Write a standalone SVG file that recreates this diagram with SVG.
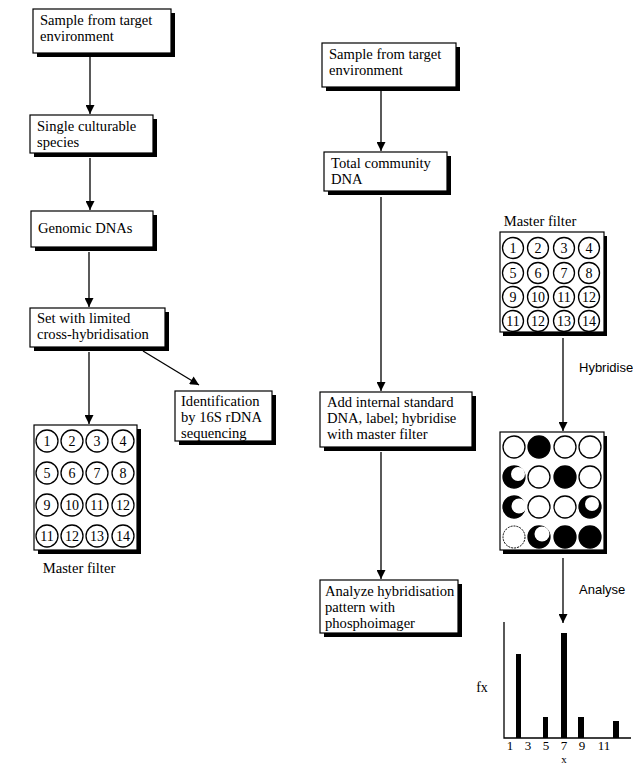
<svg xmlns="http://www.w3.org/2000/svg" width="633" height="765" viewBox="0 0 633 765">
<defs>
<style>
.box{fill:#fff;stroke:#000;stroke-width:1.2}
.sh{fill:#000}
.t{font-family:"Liberation Serif","Times New Roman",serif;font-size:14.6px;fill:#000}
.s{font-family:"Liberation Sans",Arial,sans-serif;font-size:13px;fill:#000}
.n{font-family:"Liberation Serif","Times New Roman",serif;font-size:14px;fill:#000;text-anchor:middle}
.c{fill:#fff;stroke:#000;stroke-width:1.3}
.k{fill:#000;stroke:#000;stroke-width:1.3}
.ln{stroke:#000;stroke-width:1.3;fill:none}
</style>
<marker id="ah" viewBox="0 0 10 10" refX="10" refY="5" markerWidth="13" markerHeight="9" markerUnits="userSpaceOnUse" orient="auto">
<path d="M0,0 L10,5 L0,10 z" fill="#000"/>
</marker>
</defs>
<rect width="633" height="765" fill="#fff"/>

<g id="connectors">
<line class="ln" x1="90" y1="56" x2="90" y2="114" marker-end="url(#ah)"/>
<line class="ln" x1="90" y1="158" x2="90" y2="210" marker-end="url(#ah)"/>
<line class="ln" x1="89" y1="252" x2="89" y2="307" marker-end="url(#ah)"/>
<line class="ln" x1="89" y1="352" x2="89" y2="424" marker-end="url(#ah)"/>
<line class="ln" x1="143" y1="351" x2="199" y2="385" marker-end="url(#ah)"/>
<line class="ln" x1="381" y1="91" x2="381" y2="151" marker-end="url(#ah)"/>
<line class="ln" x1="381" y1="197" x2="381" y2="391" marker-end="url(#ah)"/>
<line class="ln" x1="381" y1="452" x2="381" y2="579" marker-end="url(#ah)"/>
<line class="ln" x1="563" y1="338" x2="563" y2="431" marker-end="url(#ah)"/>
<line class="ln" x1="563" y1="558" x2="563" y2="623" marker-end="url(#ah)"/>
</g>

<g id="n-sample-left">
<rect class="sh" x="37" y="13" width="138" height="44"/>
<rect class="box" x="33" y="9" width="138" height="44"/>
<text class="t" x="40" y="25">Sample from target</text>
<text class="t" x="40" y="41">environment</text>
</g>
<g id="n-single">
<rect class="sh" x="34" y="119" width="123" height="38"/>
<rect class="box" x="30" y="115" width="123" height="38"/>
<text class="t" x="37" y="131">Single culturable</text>
<text class="t" x="37" y="147">species</text>
</g>
<g id="n-genomic">
<rect class="sh" x="35" y="215" width="122" height="36"/>
<rect class="box" x="31" y="211" width="122" height="36"/>
<text class="t" x="38" y="233">Genomic DNAs</text>
</g>
<g id="n-set">
<rect class="sh" x="34" y="312" width="135" height="39"/>
<rect class="box" x="30" y="308" width="135" height="39"/>
<text class="t" x="37" y="323">Set with limited</text>
<text class="t" x="37" y="339">cross-hybridisation</text>
</g>
<g id="n-ident">
<rect class="sh" x="179" y="395" width="97" height="50"/>
<rect class="box" x="175" y="391" width="97" height="50"/>
<text class="t" x="181" y="406">Identification</text>
<text class="t" x="181" y="422">by 16S rDNA</text>
<text class="t" x="181" y="438">sequencing</text>
</g>
<g id="n-master-left">
<rect class="sh" x="38" y="429" width="103" height="125"/>
<rect class="box" x="34" y="425" width="103" height="125"/>
<g>
<circle class="c" cx="47" cy="441" r="11"/><circle class="c" cx="72" cy="441" r="11"/><circle class="c" cx="97" cy="441" r="11"/><circle class="c" cx="123" cy="441" r="11"/>
<circle class="c" cx="47" cy="473" r="11"/><circle class="c" cx="72" cy="473" r="11"/><circle class="c" cx="97" cy="473" r="11"/><circle class="c" cx="123" cy="473" r="11"/>
<circle class="c" cx="47" cy="505" r="11"/><circle class="c" cx="72" cy="505" r="11"/><circle class="c" cx="97" cy="505" r="11"/><circle class="c" cx="123" cy="505" r="11"/>
<circle class="c" cx="47" cy="536" r="11"/><circle class="c" cx="72" cy="536" r="11"/><circle class="c" cx="97" cy="536" r="11"/><circle class="c" cx="123" cy="536" r="11"/>
</g>
<text class="n" x="47" y="446">1</text><text class="n" x="72" y="446">2</text><text class="n" x="97" y="446">3</text><text class="n" x="123" y="446">4</text>
<text class="n" x="47" y="478">5</text><text class="n" x="72" y="478">6</text><text class="n" x="97" y="478">7</text><text class="n" x="123" y="478">8</text>
<text class="n" x="47" y="510">9</text><text class="n" x="72" y="510">10</text><text class="n" x="97" y="510">11</text><text class="n" x="123" y="510">12</text>
<text class="n" x="47" y="541">11</text><text class="n" x="72" y="541">12</text><text class="n" x="97" y="541">13</text><text class="n" x="123" y="541">14</text>
<text class="t" x="79" y="573" text-anchor="middle">Master filter</text>
</g>

<g id="n-sample-mid">
<rect class="sh" x="326" y="47" width="134" height="44"/>
<rect class="box" x="322" y="43" width="134" height="44"/>
<text class="t" x="329" y="59">Sample from target</text>
<text class="t" x="329" y="75">environment</text>
</g>
<g id="n-total">
<rect class="sh" x="328" y="156" width="123" height="39"/>
<rect class="box" x="324" y="152" width="123" height="39"/>
<text class="t" x="331" y="168">Total community</text>
<text class="t" x="331" y="184">DNA</text>
</g>
<g id="n-add">
<rect class="sh" x="324" y="396" width="152" height="55"/>
<rect class="box" x="320" y="392" width="152" height="55"/>
<text class="t" x="327" y="407">Add internal standard</text>
<text class="t" x="327" y="423">DNA, label; hybridise</text>
<text class="t" x="327" y="439">with master filter</text>
</g>
<g id="n-analyze">
<rect class="sh" x="324" y="584" width="138" height="53"/>
<rect class="box" x="320" y="580" width="138" height="53"/>
<text class="t" x="325" y="596">Analyze hybridisation</text>
<text class="t" x="325" y="612">pattern with</text>
<text class="t" x="325" y="628">phosphoimager</text>
</g>

<g id="n-master-right">
<text class="t" x="540" y="226" text-anchor="middle">Master filter</text>
<rect class="sh" x="503" y="236" width="104" height="100"/>
<rect class="box" x="500" y="232" width="104" height="100"/>
<circle class="c" cx="513" cy="248" r="10.5"/><circle class="c" cx="538" cy="248" r="10.5"/><circle class="c" cx="564" cy="248" r="10.5"/><circle class="c" cx="589" cy="248" r="10.5"/>
<circle class="c" cx="513" cy="273" r="10.5"/><circle class="c" cx="538" cy="273" r="10.5"/><circle class="c" cx="564" cy="273" r="10.5"/><circle class="c" cx="589" cy="273" r="10.5"/>
<circle class="c" cx="513" cy="297" r="10.5"/><circle class="c" cx="538" cy="297" r="10.5"/><circle class="c" cx="564" cy="297" r="10.5"/><circle class="c" cx="589" cy="297" r="10.5"/>
<circle class="c" cx="513" cy="321" r="10.5"/><circle class="c" cx="538" cy="321" r="10.5"/><circle class="c" cx="564" cy="321" r="10.5"/><circle class="c" cx="589" cy="321" r="10.5"/>
<text class="n" x="513" y="253">1</text><text class="n" x="538" y="253">2</text><text class="n" x="564" y="253">3</text><text class="n" x="589" y="253">4</text>
<text class="n" x="513" y="278">5</text><text class="n" x="538" y="278">6</text><text class="n" x="564" y="278">7</text><text class="n" x="589" y="278">8</text>
<text class="n" x="513" y="302">9</text><text class="n" x="538" y="302">10</text><text class="n" x="564" y="302">11</text><text class="n" x="589" y="302">12</text>
<text class="n" x="513" y="326">11</text><text class="n" x="538" y="326">12</text><text class="n" x="564" y="326">13</text><text class="n" x="589" y="326">14</text>
</g>
<text class="s" x="579" y="372">Hybridise</text>

<g id="n-result">
<rect class="sh" x="503" y="436" width="104" height="118"/>
<rect class="box" x="500" y="432" width="104" height="118"/>
<circle class="c" cx="514" cy="447" r="11"/><circle class="k" cx="539" cy="447" r="11"/><circle class="c" cx="565" cy="447" r="11"/><circle class="c" cx="590" cy="447" r="11"/>
<circle class="k" cx="514" cy="477" r="11"/><circle cx="518" cy="474" r="7" fill="#fff"/><circle class="c" cx="539" cy="477" r="11"/><circle class="k" cx="565" cy="477" r="11"/><circle class="c" cx="590" cy="477" r="11"/>
<circle class="k" cx="514" cy="507" r="11"/><circle cx="519" cy="506" r="7.5" fill="#fff"/><circle class="c" cx="539" cy="507" r="11"/><circle class="c" cx="565" cy="507" r="11"/><circle class="k" cx="590" cy="507" r="11"/><circle cx="592" cy="504" r="7" fill="#fff"/>
<circle cx="514" cy="537" r="11" fill="#fff" stroke="#000" stroke-width="1" stroke-dasharray="2 1"/><circle class="k" cx="539" cy="537" r="11"/><circle cx="542" cy="534" r="7.5" fill="#fff"/><circle class="k" cx="565" cy="537" r="11"/><circle class="k" cx="590" cy="537" r="11"/>
</g>
<text class="s" x="579" y="594">Analyse</text>

<g id="n-chart">
<path class="ln" d="M504 622 V738 H631"/>
<rect x="516" y="654" width="5" height="84" fill="#000"/>
<rect x="543" y="717" width="5" height="21" fill="#000"/>
<rect x="561" y="633" width="6" height="105" fill="#000"/>
<rect x="578" y="717" width="6" height="21" fill="#000"/>
<rect x="613" y="721" width="6" height="17" fill="#000"/>
<text class="n" x="510" y="750" style="font-size:13px">1</text>
<text class="n" x="528" y="750" style="font-size:13px">3</text>
<text class="n" x="546" y="750" style="font-size:13px">5</text>
<text class="n" x="564" y="750" style="font-size:13px">7</text>
<text class="n" x="582" y="750" style="font-size:13px">9</text>
<text class="n" x="604" y="750" style="font-size:13px">11</text>
<text class="n" x="564" y="763" style="font-size:11px">x</text>
<text class="n" x="482" y="692">fx</text>
</g>
</svg>
